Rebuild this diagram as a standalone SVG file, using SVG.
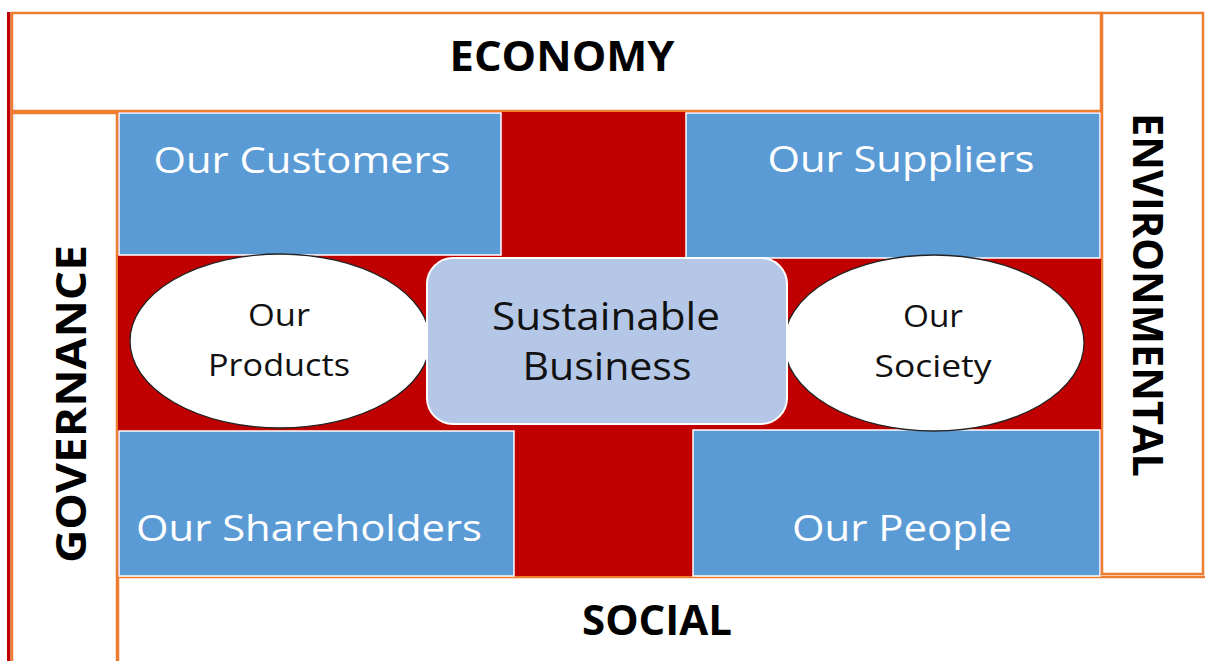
<svg xmlns="http://www.w3.org/2000/svg" width="1205" height="661" viewBox="0 0 1205 661">
<style>
.frame{fill:#fff;stroke:#ED7D31;stroke-width:2.5}
.blue{fill:#5B9BD5;stroke:#fff;stroke-width:1.5}
.oval{fill:#fff;stroke:#222;stroke-width:1.3}
.hd{font-family:"Open Sans","Liberation Sans",sans-serif;font-weight:bold;font-size:41px;fill:#000}
.wt{font-family:"Open Sans","Liberation Sans",sans-serif;font-size:37px;fill:#fff}
.bk{font-family:"Open Sans","Liberation Sans",sans-serif;font-size:31px;fill:#111}
.ct{font-family:"Open Sans","Liberation Sans",sans-serif;font-size:38px;fill:#111}
</style>
<rect width="1205" height="661" fill="#fff"/>
<rect x="7" y="12" width="3.5" height="649" fill="#C00000"/>
<g id="economy">
<rect class="frame" x="12" y="13" width="1089" height="98"/>
<text class="hd" x="562" y="71" text-anchor="middle" textLength="225" lengthAdjust="spacingAndGlyphs">ECONOMY</text>
</g>
<g id="environmental">
<rect class="frame" x="1102" y="13" width="101" height="561"/>
<text class="hd" transform="translate(1133,295) rotate(90)" text-anchor="middle" textLength="364" lengthAdjust="spacingAndGlyphs">ENVIRONMENTAL</text>
</g>
<g id="governance">
<rect class="frame" x="12" y="113" width="105" height="560"/>
<text class="hd" transform="translate(86,404) rotate(-90)" text-anchor="middle" textLength="318" lengthAdjust="spacingAndGlyphs">GOVERNANCE</text>
</g>
<g id="social">
<rect class="frame" x="118" y="577" width="1095" height="100"/>
<text class="hd" x="657" y="635" text-anchor="middle" textLength="150" lengthAdjust="spacingAndGlyphs">SOCIAL</text>
</g>
<rect id="cross" x="118" y="112" width="983" height="464" fill="#C00000"/>
<g id="customers">
<rect class="blue" x="119" y="113" width="382" height="142"/>
<text class="wt" x="302" y="173" text-anchor="middle" textLength="297" lengthAdjust="spacingAndGlyphs">Our Customers</text>
</g>
<g id="suppliers">
<rect class="blue" x="686" y="113" width="414" height="145"/>
<text class="wt" x="901" y="172" text-anchor="middle" textLength="267" lengthAdjust="spacingAndGlyphs">Our Suppliers</text>
</g>
<g id="shareholders">
<rect class="blue" x="119" y="431" width="395" height="145"/>
<text class="wt" x="309" y="541" text-anchor="middle" textLength="346" lengthAdjust="spacingAndGlyphs">Our Shareholders</text>
</g>
<g id="people">
<rect class="blue" x="693" y="430" width="407" height="146"/>
<text class="wt" x="902" y="541" text-anchor="middle" textLength="220" lengthAdjust="spacingAndGlyphs">Our People</text>
</g>
<g id="products">
<ellipse class="oval" cx="280" cy="341" rx="150" ry="87"/>
<text class="bk" x="279" y="326" text-anchor="middle" textLength="62" lengthAdjust="spacingAndGlyphs">Our</text>
<text class="bk" x="279" y="376" text-anchor="middle" textLength="142" lengthAdjust="spacingAndGlyphs">Products</text>
</g>
<g id="society">
<ellipse class="oval" cx="934" cy="343" rx="150" ry="88"/>
<text class="bk" x="933" y="327" text-anchor="middle" textLength="60" lengthAdjust="spacingAndGlyphs">Our</text>
<text class="bk" x="933" y="377" text-anchor="middle" textLength="117" lengthAdjust="spacingAndGlyphs">Society</text>
</g>
<g id="sustainable">
<rect x="427" y="258" width="360" height="166" rx="26" fill="#B4C7E7" stroke="#fff" stroke-width="2"/>
<text class="ct" x="606" y="330" text-anchor="middle" textLength="228" lengthAdjust="spacingAndGlyphs">Sustainable</text>
<text class="ct" x="607" y="380" text-anchor="middle" textLength="169" lengthAdjust="spacingAndGlyphs">Business</text>
</g>
<g id="connectors"></g>
</svg>
